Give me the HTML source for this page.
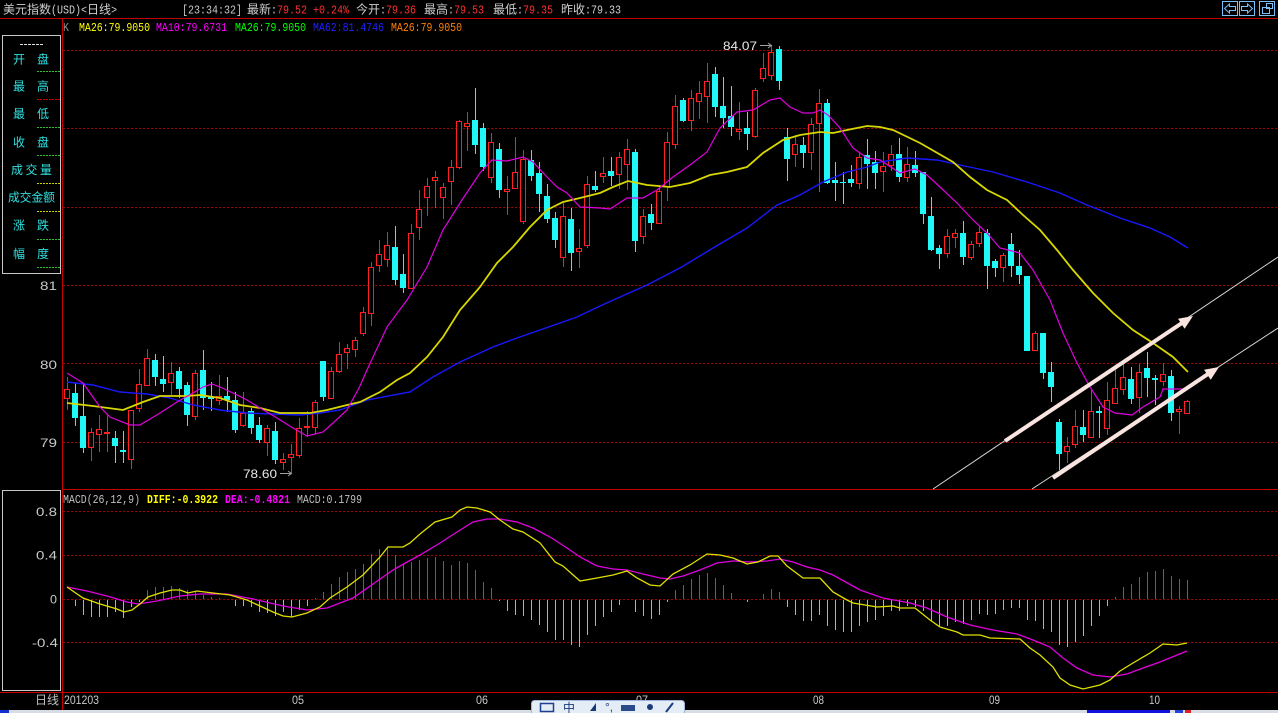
<!DOCTYPE html>
<html><head><meta charset="utf-8"><style>
html,body{margin:0;padding:0;background:#000;overflow:hidden;}
svg{display:block}
.cj{font-family:"Liberation Sans","Noto Sans CJK SC",sans-serif;font-size:12px}
.mo{font-family:"Liberation Mono",monospace;font-size:12px}
.sn{font-family:"Liberation Sans",sans-serif;font-size:12px}
</style></head><body>
<svg width="1278" height="713" viewBox="0 0 1278 713" xmlns="http://www.w3.org/2000/svg">
<rect width="1278" height="713" fill="#000"/>

<!-- header -->
<text class="cj" x="3" y="13.5" fill="#d0d0d0" textLength="48" lengthAdjust="spacingAndGlyphs">美元指数</text>
<text class="mo" x="51" y="13.5" fill="#d0d0d0" textLength="36" lengthAdjust="spacingAndGlyphs">(USD)&lt;</text>
<text class="cj" x="87" y="13.5" fill="#d0d0d0" textLength="24" lengthAdjust="spacingAndGlyphs">日线</text>
<text class="mo" x="111" y="13.5" fill="#d0d0d0" textLength="6" lengthAdjust="spacingAndGlyphs">&gt;</text>
<text class="mo" x="182" y="13.5" fill="#c8c8c8" textLength="60" lengthAdjust="spacingAndGlyphs">[23:34:32]</text>
<text class="cj" x="247" y="13.5" fill="#d0d0d0" textLength="24" lengthAdjust="spacingAndGlyphs">最新</text>
<text class="mo" x="271" y="13.5" fill="#d0d0d0" textLength="6" lengthAdjust="spacingAndGlyphs">:</text>
<text class="mo" x="277" y="13.5" fill="#ff3030" textLength="30" lengthAdjust="spacingAndGlyphs">79.52</text>
<text class="mo" x="313" y="13.5" fill="#ff3030" textLength="36" lengthAdjust="spacingAndGlyphs">+0.24%</text>
<text class="cj" x="356" y="13.5" fill="#d0d0d0" textLength="24" lengthAdjust="spacingAndGlyphs">今开</text>
<text class="mo" x="380" y="13.5" fill="#d0d0d0" textLength="6" lengthAdjust="spacingAndGlyphs">:</text>
<text class="mo" x="386" y="13.5" fill="#ff3030" textLength="30" lengthAdjust="spacingAndGlyphs">79.36</text>
<text class="cj" x="424" y="13.5" fill="#d0d0d0" textLength="24" lengthAdjust="spacingAndGlyphs">最高</text>
<text class="mo" x="448" y="13.5" fill="#d0d0d0" textLength="6" lengthAdjust="spacingAndGlyphs">:</text>
<text class="mo" x="454" y="13.5" fill="#ff3030" textLength="30" lengthAdjust="spacingAndGlyphs">79.53</text>
<text class="cj" x="493" y="13.5" fill="#d0d0d0" textLength="24" lengthAdjust="spacingAndGlyphs">最低</text>
<text class="mo" x="517" y="13.5" fill="#d0d0d0" textLength="6" lengthAdjust="spacingAndGlyphs">:</text>
<text class="mo" x="523" y="13.5" fill="#ff3030" textLength="30" lengthAdjust="spacingAndGlyphs">79.35</text>
<text class="cj" x="561" y="13.5" fill="#d0d0d0" textLength="24" lengthAdjust="spacingAndGlyphs">昨收</text>
<text class="mo" x="585" y="13.5" fill="#d0d0d0" textLength="6" lengthAdjust="spacingAndGlyphs">:</text>
<text class="mo" x="591" y="13.5" fill="#d0d0d0" textLength="30" lengthAdjust="spacingAndGlyphs">79.33</text>

<!-- top-right buttons -->
<g fill="none" stroke="#7cc0f8" stroke-width="1" shape-rendering="crispEdges">
<rect x="1222.5" y="1.5" width="15" height="14"/>
<rect x="1239.5" y="1.5" width="15" height="14"/>
<rect x="1259.5" y="1.5" width="15" height="14"/>
</g>
<g fill="none" stroke="#7cc0f8" stroke-width="1">
<path d="M1224.5 8.5L1229.5 4V6.5H1235.5V10.5H1229.5V13Z"/>
<path d="M1252.5 8.5L1247.5 4V6.5H1241.5V10.5H1247.5V13Z"/>
<rect x="1262.5" y="7.5" width="7" height="6"/>
<rect x="1266.5" y="3.5" width="6" height="5"/>
</g>

<!-- frame lines -->
<g stroke="#c40000" stroke-width="1" shape-rendering="crispEdges">
<line x1="0" y1="18.5" x2="1278" y2="18.5"/>
<line x1="62.5" y1="18" x2="62.5" y2="710"/>
<line x1="62" y1="489.5" x2="1278" y2="489.5"/>
<line x1="0" y1="692.5" x2="1278" y2="692.5"/>
</g>

<!-- MA legend -->
<text class="mo" x="63" y="31" fill="#909090" textLength="6" lengthAdjust="spacingAndGlyphs">K</text>
<text class="mo" x="79" y="31" fill="#ffff00" textLength="71" lengthAdjust="spacingAndGlyphs">MA26:79.9050</text>
<text class="mo" x="156" y="31" fill="#ff00ff" textLength="71" lengthAdjust="spacingAndGlyphs">MA10:79.6731</text>
<text class="mo" x="235" y="31" fill="#00ff00" textLength="71" lengthAdjust="spacingAndGlyphs">MA26:79.9050</text>
<text class="mo" x="313" y="31" fill="#2020ff" textLength="71" lengthAdjust="spacingAndGlyphs">MA62:81.4746</text>
<text class="mo" x="391" y="31" fill="#ff8000" textLength="71" lengthAdjust="spacingAndGlyphs">MA26:79.9050</text>

<!-- grid main -->
<g stroke="#a00000" stroke-width="1" stroke-dasharray="2 2" shape-rendering="crispEdges">
<line x1="63" y1="50.5" x2="1278" y2="50.5"/>
<line x1="63" y1="128.5" x2="1278" y2="128.5"/>
<line x1="63" y1="207.5" x2="1278" y2="207.5"/>
<line x1="63" y1="285.5" x2="1278" y2="285.5"/>
<line x1="63" y1="363.5" x2="1278" y2="363.5"/>
<line x1="63" y1="442.5" x2="1278" y2="442.5"/>
<line x1="63" y1="511.5" x2="1278" y2="511.5"/>
<line x1="63" y1="555.5" x2="1278" y2="555.5"/>
<line x1="63" y1="599.5" x2="1278" y2="599.5"/>
<line x1="63" y1="642.5" x2="1278" y2="642.5"/>
</g>

<!-- left panel box -->
<rect x="2.5" y="35.5" width="58" height="238" fill="none" stroke="#c8c8c8" shape-rendering="crispEdges"/>
<line x1="20" y1="44.5" x2="44" y2="44.5" stroke="#e0e0e0" stroke-dasharray="3 1" shape-rendering="crispEdges"/>
<g class="cj" fill="#30e0e0">
<text x="13" y="63.6">开</text><text x="37" y="63.6">盘</text>
<text x="13" y="90.6">最</text><text x="37" y="90.6">高</text>
<text x="13" y="118">最</text><text x="37" y="118">低</text>
<text x="13" y="146.3">收</text><text x="37" y="146.3">盘</text>
<text x="11" y="174" textLength="41" lengthAdjust="spacing">成交量</text>
<text x="8" y="201.3" textLength="47" lengthAdjust="spacingAndGlyphs">成交金额</text>
<text x="13" y="229.6">涨</text><text x="37" y="229.6">跌</text>
<text x="13" y="258">幅</text><text x="37" y="258">度</text>
</g>
<g stroke-width="1" stroke-dasharray="2 1" shape-rendering="crispEdges">
<line x1="37" y1="71.5" x2="60" y2="71.5" stroke="#30c030"/>
<line x1="37" y1="99.5" x2="60" y2="99.5" stroke="#d00000"/>
<line x1="37" y1="127.5" x2="60" y2="127.5" stroke="#30c030"/>
<line x1="37" y1="155.5" x2="60" y2="155.5" stroke="#30c030"/>
<line x1="37" y1="183.5" x2="60" y2="183.5" stroke="#d0d000"/>
<line x1="37" y1="211.5" x2="60" y2="211.5" stroke="#d0d000"/>
<line x1="37" y1="239.5" x2="60" y2="239.5" stroke="#30c030"/>
<line x1="37" y1="267.5" x2="60" y2="267.5" stroke="#30c030"/>
</g>

<!-- y labels main -->
<g class="sn" fill="#c8c8c8">
<text x="40" y="290" textLength="17" lengthAdjust="spacingAndGlyphs">81</text>
<text x="40" y="369" textLength="17" lengthAdjust="spacingAndGlyphs">80</text>
<text x="40" y="447" textLength="17" lengthAdjust="spacingAndGlyphs">79</text>
</g>

<!-- candles: cyan -->
<path fill="#20f8f8" shape-rendering="crispEdges" d="M72 393h6v25h-6zM80 416h6v32h-6zM112 438h6v8h-6zM120 450h6v2h-6zM152 360h6v17h-6zM160 379h6v5h-6zM176 371h6v18h-6zM184 385h6v30h-6zM200 370h6v28h-6zM208 397h6v2h-6zM224 396h6v4h-6zM232 400h6v30h-6zM248 411h6v17h-6zM256 425h6v15h-6zM272 431h6v29h-6zM320 361h6v36h-6zM392 247h6v33h-6zM400 274h6v14h-6zM472 120h6v25h-6zM480 128h6v39h-6zM496 149h6v41h-6zM528 160h6v16h-6zM536 173h6v21h-6zM544 196h6v23h-6zM552 218h6v22h-6zM568 219h6v34h-6zM592 186h6v4h-6zM608 171h6v5h-6zM632 152h6v89h-6zM648 214h6v9h-6zM680 100h6v21h-6zM712 74h6v33h-6zM720 106h6v12h-6zM728 116h6v11h-6zM744 128h6v6h-6zM776 49h6v32h-6zM784 137h6v22h-6zM800 145h6v8h-6zM824 103h6v80h-6zM832 180h6v3h-6zM840 182h6v1h-6zM848 179h6v4h-6zM864 155h6v9h-6zM872 162h6v11h-6zM896 154h6v23h-6zM912 165h6v8h-6zM920 172h6v42h-6zM928 216h6v34h-6zM936 248h6v6h-6zM960 233h6v24h-6zM984 233h6v33h-6zM992 261h6v7h-6zM1008 244h6v22h-6zM1016 266h6v9h-6zM1024 276h6v75h-6zM1040 333h6v40h-6zM1048 372h6v15h-6zM1056 422h6v32h-6zM1080 427h6v8h-6zM1096 411h6v2h-6zM1128 379h6v20h-6zM1144 368h6v10h-6zM1152 378h6v2h-6zM1168 376h6v37h-6z"/>
<path fill="none" stroke="#20f8f8" stroke-width="1" shape-rendering="crispEdges" d="M75.5 383V426M83.5 384V453M115.5 431V463M123.5 431V463M155.5 354V386M163.5 356V392M179.5 367V398M187.5 382V426M203.5 350V410M211.5 382V411M227.5 377V412M235.5 392V433M251.5 408V434M259.5 417V443M275.5 422V464M323.5 361V401M395.5 226V285M403.5 254V293M475.5 88V154M483.5 123V171M499.5 143V198M531.5 150V181M539.5 162V212M547.5 184V223M555.5 212V248M571.5 208V271M595.5 171V192M611.5 157V186M635.5 149V252M651.5 204V230M683.5 98V122M715.5 67V117M723.5 77V128M731.5 86V136M747.5 112V150M779.5 46V90M787.5 128V181M803.5 137V168M827.5 99V184M835.5 162V201M843.5 172V204M851.5 165V187M867.5 139V189M875.5 151V189M899.5 138V182M915.5 151V177M923.5 172V224M931.5 197V251M939.5 245V269M963.5 221V265M987.5 229V289M995.5 259V277M1011.5 233V277M1019.5 250V284M1027.5 276V351M1043.5 333V379M1051.5 362V402M1059.5 419V470M1083.5 410V442M1099.5 406V438M1131.5 367V404M1147.5 352V397M1155.5 375V405M1171.5 370V421"/>

<!-- candles: red -->
<path fill="#000" stroke="#ff2020" stroke-width="1" shape-rendering="crispEdges" d="M64.5 389.5h5v9h-5zM88.5 432.5h5v15h-5zM96.5 429.5h5v5h-5zM104.5 432.5h5v1h-5zM128.5 410.5h5v49h-5zM136.5 384.5h5v24h-5zM144.5 358.5h5v27h-5zM168.5 373.5h5v9h-5zM192.5 373.5h5v43h-5zM216.5 396.5h5v4h-5zM240.5 413.5h5v12h-5zM264.5 428.5h5v14h-5zM280.5 459.5h5v3h-5zM288.5 454.5h5v3h-5zM296.5 428.5h5v27h-5zM304.5 426.5h5v1h-5zM312.5 402.5h5v25h-5zM328.5 371.5h5v27h-5zM336.5 354.5h5v17h-5zM344.5 348.5h5v4h-5zM352.5 340.5h5v9h-5zM360.5 312.5h5v21h-5zM368.5 267.5h5v46h-5zM376.5 254.5h5v11h-5zM384.5 245.5h5v14h-5zM408.5 233.5h5v55h-5zM416.5 209.5h5v18h-5zM424.5 186.5h5v11h-5zM432.5 177.5h5v3h-5zM440.5 187.5h5v10h-5zM448.5 167.5h5v14h-5zM456.5 121.5h5v46h-5zM464.5 123.5h5v3h-5zM488.5 142.5h5v35h-5zM504.5 189.5h5v2h-5zM512.5 172.5h5v16h-5zM520.5 159.5h5v62h-5zM560.5 216.5h5v41h-5zM576.5 248.5h5v3h-5zM584.5 184.5h5v61h-5zM600.5 173.5h5v3h-5zM616.5 157.5h5v17h-5zM624.5 149.5h5v15h-5zM640.5 216.5h5v20h-5zM656.5 191.5h5v32h-5zM664.5 142.5h5v44h-5zM672.5 106.5h5v38h-5zM688.5 98.5h5v22h-5zM696.5 93.5h5v8h-5zM704.5 81.5h5v15h-5zM736.5 129.5h5v2h-5zM752.5 90.5h5v46h-5zM760.5 68.5h5v10h-5zM768.5 52.5h5v23h-5zM792.5 144.5h5v10h-5zM808.5 124.5h5v28h-5zM816.5 103.5h5v20h-5zM856.5 157.5h5v26h-5zM880.5 166.5h5v5h-5zM888.5 154.5h5v11h-5zM904.5 164.5h5v13h-5zM944.5 236.5h5v17h-5zM952.5 233.5h5v4h-5zM968.5 244.5h5v13h-5zM976.5 232.5h5v11h-5zM1000.5 255.5h5v12h-5zM1032.5 333.5h5v17h-5zM1064.5 446.5h5v5h-5zM1072.5 426.5h5v18h-5zM1088.5 411.5h5v26h-5zM1104.5 400.5h5v28h-5zM1112.5 388.5h5v15h-5zM1120.5 377.5h5v12h-5zM1136.5 372.5h5v25h-5zM1160.5 374.5h5v7h-5zM1176.5 409.5h5v2h-5zM1184.5 401.5h5v12h-5z"/>
<path fill="none" stroke="#ff2020" stroke-width="1" shape-rendering="crispEdges" d="M67.5 377V389M67.5 398V410M91.5 428V432M91.5 447V461M99.5 415V429M99.5 434V452M107.5 415V432M107.5 433V452M131.5 459V469M139.5 369V384M139.5 408V412M147.5 349V358M147.5 385V386M171.5 362V373M171.5 382V395M195.5 370V373M195.5 416V420M219.5 375V396M219.5 400V405M243.5 392V413M243.5 425V427M267.5 425V428M267.5 442V456M283.5 453V459M283.5 462V470M291.5 444V454M291.5 457V473M299.5 418V428M299.5 455V458M307.5 411V426M307.5 427V437M315.5 400V402M315.5 427V434M331.5 367V371M339.5 342V354M339.5 371V373M347.5 344V348M347.5 352V369M355.5 337V340M355.5 349V357M363.5 307V312M363.5 333V336M371.5 262V267M371.5 313V326M379.5 240V254M379.5 265V272M387.5 232V245M387.5 259V267M411.5 224V233M419.5 190V209M419.5 227V240M427.5 178V186M427.5 197V216M435.5 171V177M435.5 180V208M443.5 183V187M443.5 197V219M451.5 160V167M451.5 181V205M459.5 120V121M459.5 167V169M467.5 112V123M467.5 126V151M491.5 133V142M491.5 177V183M507.5 176V189M507.5 191V215M515.5 137V172M515.5 188V189M523.5 150V159M523.5 221V224M563.5 203V216M563.5 257V267M579.5 229V248M579.5 251V268M587.5 176V184M587.5 245V248M603.5 157V173M603.5 176V183M619.5 152V157M619.5 174V189M627.5 139V149M627.5 164V190M643.5 209V216M643.5 236V244M659.5 186V191M667.5 132V142M667.5 186V201M675.5 95V106M675.5 144V149M691.5 90V98M691.5 120V131M699.5 81V93M699.5 101V119M707.5 63V81M707.5 96V123M739.5 102V129M739.5 131V140M755.5 88V90M755.5 136V138M763.5 53V68M763.5 78V82M771.5 45V52M771.5 75V80M795.5 135V144M795.5 154V167M811.5 118V124M811.5 152V170M819.5 89V103M819.5 123V192M859.5 153V157M859.5 183V189M883.5 152V166M883.5 171V192M891.5 145V154M891.5 165V171M907.5 147V164M907.5 177V182M947.5 229V236M947.5 253V258M955.5 229V233M955.5 237V248M971.5 241V244M971.5 257V260M979.5 226V232M979.5 243V247M1003.5 253V255M1003.5 267V282M1035.5 331V333M1067.5 437V446M1067.5 451V463M1075.5 410V426M1075.5 444V448M1091.5 390V411M1107.5 382V400M1107.5 428V435M1115.5 367V388M1115.5 403V404M1123.5 363V377M1123.5 389V395M1139.5 364V372M1139.5 397V413M1163.5 363V374M1163.5 381V386M1179.5 406V409M1179.5 411V434M1187.5 400V401M1187.5 413V414"/>

<!-- MA lines -->
<polyline fill="none" stroke="#1818ff" stroke-width="1.4" points="67,382 93,385 120,392 147,394 170,398 193,405 220,410 247,413 273,414 300,415 320,413 340,410 367,400 410,392 433,377 460,362 493,347 517,338 560,323 577,317 600,306 647,285 680,268 713,248 747,228 777,205 800,195 823,182 847,172 867,167 880,162 907,158 937,160 960,165 993,172 1027,182 1060,193 1087,205 1120,218 1150,228 1170,237 1188,248"/>
<polyline fill="none" stroke="#d8d800" stroke-width="1.8" points="67,403 93,406 123,410 143,402 160,396 187,396 200,395 220,398 240,405 260,408 280,413 310,413 327,410 347,405 360,402 380,392 397,380 410,373 427,357 443,337 460,310 480,287 497,263 513,247 530,227 547,210 563,202 580,198 600,193 613,187 628,181 647,185 670,187 690,183 710,175 727,172 747,167 763,153 783,140 800,135 820,132 833,133 847,130 867,126 880,127 893,130 920,143 953,162 970,177 987,190 1007,200 1023,215 1040,230 1057,250 1073,270 1093,293 1113,313 1133,330 1153,343 1173,357 1188,372"/>
<polyline fill="none" stroke="#e000e0" stroke-width="1.2" points="67,373 83,383 100,407 110,417 130,425 140,425 160,413 177,402 193,393 203,387 212,384 220,387 233,393 247,400 260,408 277,418 293,428 307,436 323,432 333,423 347,410 360,386 367,370 387,327 407,300 427,267 443,230 460,203 480,173 492,160 507,161 523,157 533,162 547,177 557,187 567,193 580,207 600,208 610,209 627,198 643,198 657,190 673,177 690,165 707,152 720,128 737,112 753,110 770,100 780,98 790,107 803,113 813,113 820,110 828,115 840,128 853,148 867,158 880,160 900,173 915,169 927,175 940,187 957,203 973,220 987,233 1000,248 1020,253 1033,270 1050,300 1063,333 1077,363 1090,387 1103,407 1115,413 1132,415 1143,407 1160,397 1163,389 1187,389"/>

<!-- trend lines & arrows -->
<g stroke="#d8d8d8" stroke-width="1">
<line x1="933" y1="489" x2="1278" y2="257"/>
<line x1="1032" y1="489" x2="1278" y2="328"/>
</g>
<g stroke="#fae4e0" stroke-width="4" stroke-linecap="butt">
<line x1="1005" y1="441" x2="1182" y2="323"/>
<line x1="1053" y1="478" x2="1208" y2="374"/>
</g>
<g fill="#fae4e0">
<polygon points="1193,316 1184.6,328.8 1178,318.8"/>
<polygon points="1219,367 1210.7,379.8 1204.1,369.8"/>
</g>

<!-- price marks -->
<text class="sn" x="723" y="50" font-size="14" fill="#e8e8e8" textLength="34" lengthAdjust="spacingAndGlyphs">84.07</text>
<path d="M760 45.5H771M768 43L771.5 45.5L768 48" stroke="#a0a0a0" fill="none"/>
<text class="sn" x="243" y="478" font-size="14" fill="#e8e8e8" textLength="34" lengthAdjust="spacingAndGlyphs">78.60</text>
<path d="M280 473.5H291M288 471L291.5 473.5L288 476" stroke="#a0a0a0" fill="none"/>

<!-- MACD pane -->
<rect x="2.5" y="490.5" width="58" height="200" fill="none" stroke="#c8c8c8" shape-rendering="crispEdges"/>
<text class="mo" x="63" y="503" fill="#c0c0c0" textLength="77" lengthAdjust="spacingAndGlyphs">MACD(26,12,9)</text>
<text class="mo" x="147" y="503" fill="#ffff00" font-weight="bold" textLength="71" lengthAdjust="spacingAndGlyphs">DIFF:-0.3922</text>
<text class="mo" x="225" y="503" fill="#ff00ff" font-weight="bold" textLength="65" lengthAdjust="spacingAndGlyphs">DEA:-0.4821</text>
<text class="mo" x="297" y="503" fill="#c0c0c0" textLength="65" lengthAdjust="spacingAndGlyphs">MACD:0.1799</text>
<g class="sn" fill="#c8c8c8">
<text x="36" y="516" textLength="21" lengthAdjust="spacingAndGlyphs">0.8</text>
<text x="36" y="559.5" textLength="21" lengthAdjust="spacingAndGlyphs">0.4</text>
<text x="50" y="603.5" textLength="7" lengthAdjust="spacingAndGlyphs">0</text>
<text x="32" y="647" textLength="26" lengthAdjust="spacingAndGlyphs">-0.4</text>
</g>
<path fill="none" stroke="#ff2020" stroke-width="1" shape-rendering="crispEdges" d="M147.5 599V590M155.5 599V587M163.5 599V587M171.5 599V586M179.5 599V588M187.5 599V590M195.5 599V591M203.5 599V595M211.5 599V597M219.5 599V598M315.5 599V598M323.5 599V592M331.5 599V584M339.5 599V577M347.5 599V572M355.5 599V569M363.5 599V564M371.5 599V554M379.5 599V549M387.5 599V547M395.5 599V555M403.5 599V564M411.5 599V562M419.5 599V560M427.5 599V558M435.5 599V557M443.5 599V561M451.5 599V565M459.5 599V561M467.5 599V563M475.5 599V570M483.5 599V582M491.5 599V588M675.5 599V590M683.5 599V585M691.5 599V579M699.5 599V575M707.5 599V573M715.5 599V578M723.5 599V585M731.5 599V593M763.5 599V594M771.5 599V589M779.5 599V592M1115.5 599V597M1123.5 599V587M1131.5 599V584M1139.5 599V577M1147.5 599V572M1155.5 599V571M1163.5 599V569M1171.5 599V576M1179.5 599V579M1187.5 599V580"/>
<path fill="none" stroke="#20f0f0" stroke-width="1" shape-rendering="crispEdges" d="M75.5 600V606M83.5 600V615M91.5 600V617M99.5 600V617M107.5 600V617M115.5 600V612M123.5 600V618M131.5 600V607M139.5 600V602M235.5 600V606M243.5 600V606M251.5 600V607M259.5 600V612M267.5 600V613M275.5 600V616M283.5 600V612M291.5 600V617M299.5 600V610M307.5 600V606M499.5 600V601M507.5 600V611M515.5 600V615M523.5 600V616M531.5 600V620M539.5 600V625M547.5 600V632M555.5 600V640M563.5 600V640M571.5 600V645M579.5 600V647M587.5 600V635M595.5 600V626M603.5 600V617M611.5 600V612M619.5 600V605M635.5 600V612M643.5 600V616M651.5 600V619M659.5 600V615M667.5 600V602M747.5 600V602M787.5 600V607M795.5 600V615M803.5 600V621M811.5 600V621M819.5 600V615M827.5 600V626M835.5 600V630M843.5 600V632M851.5 600V632M859.5 600V626M867.5 600V622M875.5 600V620M883.5 600V616M891.5 600V611M899.5 600V611M907.5 600V606M915.5 600V607M923.5 600V611M931.5 600V621M939.5 600V626M947.5 600V626M955.5 600V622M963.5 600V624M971.5 600V620M979.5 600V614M987.5 600V615M995.5 600V614M1003.5 600V610M1011.5 600V608M1019.5 600V608M1027.5 600V620M1035.5 600V621M1043.5 600V629M1051.5 600V632M1059.5 600V645M1067.5 600V647M1075.5 600V642M1083.5 600V636M1091.5 600V626M1099.5 600V616M1107.5 600V606"/>
<polyline fill="none" stroke="#e000e0" stroke-width="1.3" points="67,587 87,591 107,596 127,602 138,604 157,601 180,596 200,594 227,594 253,599 283,606 307,610 327,608 353,598 373,584 393,570 400,566 420,555 440,543 457,532 473,522 487,519 500,519 517,522 533,528 550,537 567,548 580,557 597,566 613,569 627,570 643,574 660,578 670,579 683,576 700,570 717,563 733,561 750,562 767,561 780,559 793,562 807,567 820,570 833,575 860,590 883,598 910,603 927,608 947,617 970,625 993,630 1017,634 1033,640 1050,647 1063,658 1077,668 1093,675 1110,677 1127,674 1143,668 1160,662 1187,651"/>
<polyline fill="none" stroke="#e0e000" stroke-width="1.3" points="67,587 83,598 100,604 117,609 124,612 132,610 140,604 148,597 160,593 172,590 180,590 188,593 197,591 213,593 230,595 247,600 260,606 273,612 283,616 292,617 307,613 320,607 330,598 347,587 363,575 380,557 388,547 403,547 410,543 420,534 435,522 452,517 460,510 467,507 477,508 490,512 500,520 513,529 523,532 540,543 555,562 563,566 580,581 597,578 613,575 627,571 637,578 650,585 660,586 673,574 690,565 707,554 720,555 733,558 747,564 758,562 770,556 778,556 787,566 803,578 820,578 833,592 847,600 853,603 877,607 893,606 900,608 915,608 930,620 940,627 957,632 963,635 980,635 990,638 1020,639 1030,648 1040,655 1053,667 1060,678 1070,685 1083,689 1100,685 1110,680 1120,671 1133,663 1150,653 1163,644 1177,645 1187,643"/>

<!-- bottom axis -->
<text class="cj" x="35" y="704" fill="#c0c0c0" textLength="24" lengthAdjust="spacingAndGlyphs">日线</text>
<g class="sn" fill="#c8c8c8">
<text x="64" y="704" textLength="35" lengthAdjust="spacingAndGlyphs">201203</text>
<text x="292" y="704" textLength="12" lengthAdjust="spacingAndGlyphs">05</text>
<text x="476" y="704" textLength="12" lengthAdjust="spacingAndGlyphs">06</text>
<text x="636" y="704" textLength="12" lengthAdjust="spacingAndGlyphs">07</text>
<text x="813" y="704" textLength="11" lengthAdjust="spacingAndGlyphs">08</text>
<text x="989" y="704" textLength="11" lengthAdjust="spacingAndGlyphs">09</text>
<text x="1149" y="704" textLength="11" lengthAdjust="spacingAndGlyphs">10</text>
</g>

<!-- taskbar strip -->
<rect x="0" y="710" width="1278" height="3" fill="#d8dce4"/>
<rect x="0" y="710" width="9" height="3" fill="#1030d0"/>
<rect x="1087" y="710" width="83" height="3" fill="#1010e0"/>
<rect x="1175" y="710" width="8" height="3" fill="#2040e0"/>
<rect x="1185" y="710" width="6" height="3" fill="#e02020"/>

<!-- IME toolbar -->
<rect x="531.5" y="700.5" width="153" height="14" rx="3" fill="#e4ecf6" stroke="#9db7d9"/>
<rect x="540.5" y="703.5" width="13" height="8" fill="none" stroke="#1f3f8f" stroke-width="1.5"/>
<text class="cj" x="563" y="712" font-size="12" fill="#1a3a7a">中</text>
<path d="M590 711L596 703V711Z" fill="#1a3a7a"/>
<text class="sn" x="605" y="711" font-size="10" fill="#1a3a7a">°,</text>
<rect x="621" y="705" width="14" height="6" fill="#2a4a8a"/>
<circle cx="650" cy="707" r="3" fill="#1a3a7a"/>
<path d="M666 712L673 703" stroke="#1a3a7a" stroke-width="2"/>
</svg>
</body></html>
